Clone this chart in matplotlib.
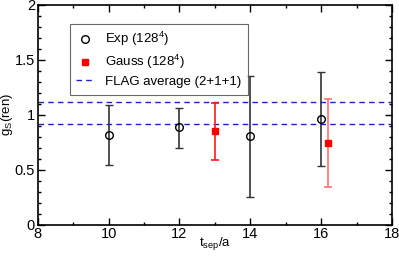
import numpy as np
import matplotlib.pyplot as plt
from matplotlib.lines import Line2D

plt.rcParams['font.family'] = ['Liberation Sans', 'DejaVu Sans']
plt.rcParams['mathtext.fontset'] = 'custom'
plt.rcParams['mathtext.rm'] = 'Liberation Sans'
plt.rcParams['mathtext.it'] = 'Liberation Sans:italic'

# Exp (128^4)
exp_t = [10, 12, 14, 16]
exp_val = [0.815, 0.885, 0.805, 0.965]
exp_lo = [0.545, 0.70, 0.25, 0.53]
exp_hi = [1.085, 1.065, 1.355, 1.39]

# Gauss (128^4)
gauss_t = [13, 16.2]
gauss_val = [0.855, 0.74]
gauss_lo = [0.59, 0.34]
gauss_hi = [1.11, 1.14]
gauss_ecol = ['#ff1a1a', '#ff7070']

# FLAG average band
flag_band = [0.92, 1.115]

fig = plt.figure(figsize=(3.99, 2.57), dpi=100)
ax = fig.add_axes([0.0945, 0.126, 0.888, 0.855])

ev = np.array(exp_val)
ax.errorbar(exp_t, exp_val, yerr=[ev - np.array(exp_lo), np.array(exp_hi) - ev],
            fmt='o', mfc='none', mec='black', mew=1.0, ms=5.5,
            ecolor='#333333', elinewidth=1.2, capsize=3, capthick=1.2, zorder=4)

for i in range(len(gauss_t)):
    ax.errorbar([gauss_t[i]], [gauss_val[i]],
                yerr=[[gauss_val[i] - gauss_lo[i]], [gauss_hi[i] - gauss_val[i]]],
                fmt='s', color='red', ms=5, ecolor=gauss_ecol[i],
                elinewidth=1.2, capsize=3, capthick=1.2, zorder=3)

for yv in flag_band:
    ax.axhline(yv, color='#2020d0', ls=(0, (4, 3)), lw=1.0, zorder=2)

ax.set_xlim(8, 18)
ax.set_ylim(0, 2)
ax.set_xticks([8, 10, 12, 14, 16, 18])
ax.set_xticks(np.arange(8, 18, 1), minor=True)
ax.set_yticks([0, 0.5, 1, 1.5, 2])
ax.set_yticklabels(['0', '0.5', '1', '1.5', '2'])
ax.set_yticks(np.arange(0, 2, 0.1), minor=True)
ax.tick_params(which='both', direction='in', top=True, right=True, labelsize=10.5)
ax.tick_params(which='major', length=5, width=1, pad=2)
ax.tick_params(which='minor', length=2.5, width=1)
for s in ax.spines.values():
    s.set_linewidth(1.2)

ax.set_xlabel(r't$_\mathrm{sep}$/a', fontsize=9.5)
ax.set_ylabel(r'g$_\mathrm{S}$(ren)', fontsize=9.5)
ax.xaxis.set_label_coords(0.5, -0.045)
ax.yaxis.set_label_coords(-0.065, 0.5)

handles = [
    Line2D([], [], ls='none', marker='o', mfc='none', mec='black', mew=1.0, ms=5.5),
    Line2D([], [], ls='none', marker='s', color='red', ms=5),
    Line2D([], [], color='#2020d0', ls=(0, (4, 3)), lw=1.0),
]
labels = ['Exp (128$^4$)', 'Gauss (128$^4$)', 'FLAG average (2+1+1)']
leg = ax.legend(handles, labels, loc='upper left', bbox_to_anchor=(0.09, 0.915),
                fontsize=9.5, frameon=True, fancybox=False, edgecolor='#444444',
                handlelength=1.4, handletextpad=0.8, borderpad=0.5,
                labelspacing=0.35, borderaxespad=0)
leg.get_frame().set_linewidth(0.8)

fig.savefig('out.png', dpi=100)
